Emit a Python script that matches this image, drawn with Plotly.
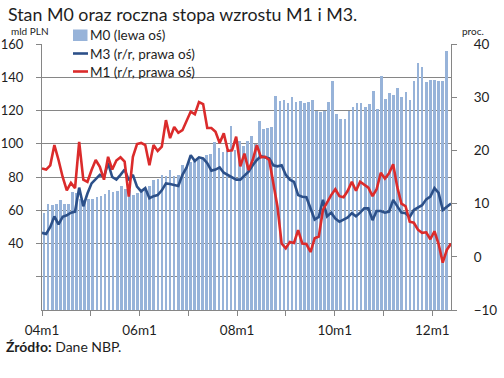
import plotly.graph_objects as go

# ---- data ----
months = [f"{(4 + i // 12):02d}m{i % 12 + 1}" for i in range(100)]  # 04m1 .. 12m4

m0 = [58.4, 64.0, 63.2, 63.6, 66.0, 64.0, 63.6, 71.2, 70.4, 67.0,
      66.0, 66.5, 66.8, 68.0, 68.8, 70.0, 72.0, 71.2, 71.6, 74.8,
      72.8, 72.4, 69.4, 70.4, 70.8, 72.8, 74.4, 78.4, 78.8, 81.4,
      80.8, 84.4, 80.4, 81.4, 87.4, 86.0, 88.8, 90.4, 90.8, 91.4,
      93.4, 94.0, 101.2, 97.4, 94.8, 96.0, 110.4, 96.4, 101.4, 98.8,
      101.8, 104.4, 99.8, 113.8, 108.8, 109.2, 109.8, 128.9, 125.8, 126.4,
      124.5, 127.9, 124.9, 125.8, 124.5, 125.2, 126.4, 119.8, 119.2, 119.8,
      125.2, 137.5, 117.8, 114.8, 115.1, 119.8, 121.9, 124.3, 124.3, 122.3,
      123.7, 131.9, 120.8, 140.5, 126.9, 130.5, 129.3, 133.3, 127.9, 130.9,
      126.4, 137.9, 148.6, 146.0, 136.9, 138.3, 138.5, 137.7, 137.9, 155.6]

m3 = [4.5, 4.3, 5.6, 7.6, 6.1, 7.5, 7.8, 8.3, 8.5, 13.0,
      9.5, 11.9, 13.8, 14.7, 15.4, 15.0, 17.6, 15.0, 14.5, 15.4,
      16.4, 14.4, 15.4, 13.2, 12.3, 12.9, 11.0, 11.4, 11.6, 12.5,
      13.8, 13.7, 13.5, 13.3, 15.4, 16.8, 19.1, 18.0, 18.7, 18.5,
      17.6, 16.2, 16.4, 16.8, 15.8, 15.4, 14.9, 14.5, 14.5, 15.3,
      16.0, 17.2, 18.2, 18.9, 18.7, 18.5, 17.2, 17.0, 17.2, 15.4,
      14.5, 14.1, 11.6, 11.3, 11.2, 9.1, 7.0, 7.5, 10.7, 7.6,
      8.3, 7.2, 6.6, 7.0, 7.4, 8.2, 7.6, 8.3, 9.1, 9.1,
      6.9, 8.6, 8.6, 8.3, 8.5, 10.7, 9.4, 8.3, 8.2, 7.5,
      8.8, 9.3, 9.7, 10.8, 11.3, 12.9, 12.0, 8.8, 9.4, 10.0]

m1 = [16.6, 16.4, 17.2, 21.0, 18.2, 15.0, 12.5, 13.9, 12.9, 21.6,
      14.5, 14.1, 16.3, 18.2, 16.9, 14.5, 18.8, 16.4, 18.1, 18.7,
      17.9, 11.3, 18.8, 21.2, 21.4, 21.0, 17.2, 21.0, 19.9, 20.7,
      25.7, 22.3, 24.4, 23.3, 23.8, 25.4, 27.3, 26.8, 29.1, 28.7,
      24.2, 24.2, 23.5, 21.4, 23.2, 19.9, 20.0, 22.6, 17.0, 19.4,
      16.3, 18.2, 21.0, 18.7, 18.8, 18.2, 14.1, 9.4, 2.5, 1.6,
      2.8, 2.6, 5.0, 2.5, 2.4, 0.9, 3.5, 3.8, 8.8, 10.3,
      11.6, 12.7, 11.4, 11.2, 12.4, 14.1, 12.4, 14.1, 13.5, 13.0,
      11.4, 12.7, 15.8, 14.7, 15.7, 17.4, 13.1, 10.0, 9.5, 6.6,
      6.4, 5.1, 4.5, 4.6, 3.3, 4.8, 2.4, -1.1, 1.3, 2.5]

series_names = ["M0 (lewa oś)", "M3 (r/r, prawa oś)", "M1 (r/r, prawa oś)"]
series_colors = ["#97B3D9", "#2C5089", "#DB2B2B"]
year_tick_labels = ["04m1", "", "06m1", "", "08m1", "", "10m1", "", "12m1"]
left_ticks = [20, 40, 60, 80, 100, 120, 140, 160]
left_labels = ["", "40", "60", "80", "100", "120", "140", "160"]
right_ticks = [-10, 0, 10, 20, 30, 40]

FONT = "Lato"
TXT = "#1E1E1E"
AX = "#868686"
idx = list(range(len(months)))

fig = go.Figure()
fig.add_trace(go.Bar(x=idx, y=m0, name=series_names[0], marker_color=series_colors[0],
                     marker_line_width=0, width=0.66, xaxis="x", yaxis="y",
                     hovertext=months))
fig.add_trace(go.Scatter(x=idx, y=m3, name=series_names[1], mode="lines",
                         line=dict(color=series_colors[1], width=2.6), xaxis="x2", yaxis="y2",
                         hovertext=months))
fig.add_trace(go.Scatter(x=idx, y=m1, name=series_names[2], mode="lines",
                         line=dict(color=series_colors[2], width=2.6), xaxis="x2", yaxis="y2",
                         hovertext=months))

L, R, T, B = 42, 53, 44, 68
W, H = 504, 378
pw, ph = W - L - R, H - T - B


def px_x(p):
    return (p - L) / pw


def px_y(p):
    return (H - B - p) / ph


fig.update_layout(
    width=W, height=H,
    margin=dict(l=L, r=R, t=T, b=B, pad=0, autoexpand=False),
    paper_bgcolor="white", plot_bgcolor="white",
    font=dict(family=FONT, size=13, color=TXT),
    bargap=0,
    showlegend=False,
    xaxis=dict(range=[-0.5, 100.1], tickmode="array",
               tickvals=[12 * k - 0.5 for k in range(9)], ticktext=year_tick_labels,
               ticks="outside", ticklen=5, tickcolor=AX, ticklabelstandoff=3,
               showline=True, linecolor=AX, linewidth=1,
               showgrid=False, zeroline=False,
               tickfont=dict(family=FONT, size=13.5, color=TXT)),
    xaxis2=dict(range=[0, 99], overlaying="x", visible=False),
    yaxis=dict(range=[0, 160], tickmode="array", tickvals=left_ticks, ticktext=left_labels,
               ticks="outside", ticklen=5, tickcolor=AX, ticklabelstandoff=10,
               showline=True, linecolor=AX, linewidth=1,
               showgrid=True, gridcolor=AX, gridwidth=1, zeroline=False,
               tickfont=dict(family=FONT, size=13, color=TXT)),
    yaxis2=dict(range=[-10, 40], tickmode="array", tickvals=right_ticks,
                overlaying="y", side="right", ticks="outside", ticklen=5, tickcolor=AX,
                ticklabelstandoff=14,
                showline=True, linecolor=AX, linewidth=1,
                showgrid=False, zeroline=False,
                tickfont=dict(family=FONT, size=13.5, color=TXT)),
)

# legend drawn as swatches + text
leg_y = [35, 53.5, 71.5]
fig.add_shape(type="rect", xref="paper", yref="paper",
              x0=px_x(73), x1=px_x(87.5), y0=px_y(41), y1=px_y(29.5),
              fillcolor=series_colors[0], line_width=0)
for k in (1, 2):
    fig.add_shape(type="line", xref="paper", yref="paper",
                  x0=px_x(73), x1=px_x(88), y0=px_y(leg_y[k]), y1=px_y(leg_y[k]),
                  line=dict(color=series_colors[k], width=2.6))
for k in range(3):
    fig.add_annotation(text=series_names[k], xref="paper", yref="paper",
                       x=px_x(88), y=px_y(leg_y[k]), xanchor="left", yanchor="middle",
                       showarrow=False, font=dict(family=FONT, size=13.5, color=TXT))

fig.add_annotation(text="Stan M0 oraz roczna stopa wzrostu M1 i M3.", xref="paper", yref="paper",
                   x=px_x(6), y=px_y(1), xanchor="left", yanchor="top", showarrow=False,
                   font=dict(family=FONT, size=17.8, color=TXT))
fig.add_annotation(text="mld PLN", xref="paper", yref="paper",
                   x=px_x(9), y=px_y(31), xanchor="left", yanchor="middle", showarrow=False,
                   font=dict(family=FONT, size=10, color=TXT))
fig.add_annotation(text="proc.", xref="paper", yref="paper",
                   x=px_x(460), y=px_y(31), xanchor="left", yanchor="middle", showarrow=False,
                   font=dict(family=FONT, size=10, color=TXT))
fig.add_annotation(text="<b>Źródło:</b> Dane NBP.", xref="paper", yref="paper",
                   x=px_x(4), y=px_y(346), xanchor="left", yanchor="middle", showarrow=False,
                   font=dict(family=FONT, size=14, color=TXT))

fig.write_html("out.html", config={"displayModeBar": False},
               post_script="document.body.style.margin='0';")
